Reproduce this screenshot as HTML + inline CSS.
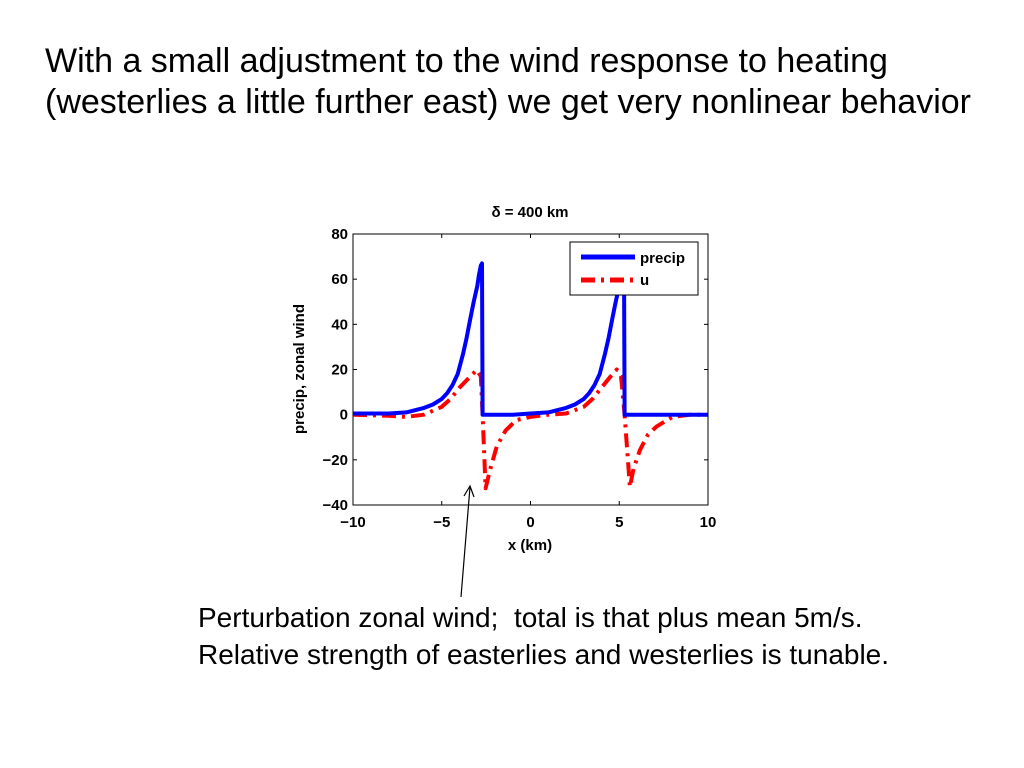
<!DOCTYPE html>
<html><head><meta charset="utf-8"><style>
body{margin:0;width:1024px;height:768px;background:#fff;overflow:hidden;font-family:"Liberation Sans",Arial,sans-serif}
.t{position:absolute;left:45px;top:41px;font-size:34px;line-height:41px;color:#000;white-space:nowrap}
.c{position:absolute;left:198px;top:599px;font-size:28px;line-height:37px;color:#000;white-space:nowrap}
</style></head><body>
<div class="t">With a small adjustment to the wind response to heating<br>(westerlies a little further east) we get very nonlinear behavior</div>
<svg width="1024" height="768" style="position:absolute;left:0;top:0">
<g id="plot"></g>
</svg>
<div class="c">Perturbation zonal wind;&nbsp; total is that plus mean 5m/s.<br>Relative strength of easterlies and westerlies is tunable.</div>
<script>
const xTicks=[-10,-5,0,5,10];
const yTicks=[-40,-20,0,20,40,60,80];
const precipX=[-10,-8,-7,-6,-5.5,-5,-4.7,-4.4,-4.1,-3.8,-3.6,-3.4,-3.2,-3,-2.9,-2.8,-2.73,-2.7,-1,0,1,2,2.5,3,3.3,3.6,3.9,4.2,4.4,4.6,4.8,5.0,5.1,5.2,5.27,5.3,10];
const precipY=[0.5,0.5,1,3,4.5,7,9.5,13,18,27,34,42,50,57,62,66,67,0,0,0.5,1,3,4.5,7,9.5,13,18,27,34,42,50,57,62,66,67,0,0];
const uX=[-10,-8,-7,-6,-5,-4.5,-4,-3.4,-3.03,-2.8,-2.7,-2.53,-2.3,-1.9,-1.4,-0.8,0,1,2,3,3.5,4,4.5,4.86,5.1,5.3,5.6,5.8,6.17,6.6,7.1,8,9,10];
const uY=[0,-0.5,-1,0,3.5,7,12,16.8,19.8,17,0,-32.6,-25,-14,-7,-2.4,-1,0,0.5,3.5,7,12,16.8,20,17,0,-32,-24,-15.6,-9,-5.3,-1,0,0];
const L=353,R=708,T=234,B=505;
const sx=v=>L+(v+10)/20*(R-L), sy=v=>B-(v+40)/120*(B-T);
const g=document.getElementById('plot');const NS='http://www.w3.org/2000/svg';
function mk(tag,attrs,text){const e=document.createElementNS(NS,tag);for(const k in attrs)e.setAttribute(k,attrs[k]);if(text!==undefined)e.textContent=text;g.appendChild(e);return e;}
let e;
e=mk('rect',{x:L,y:T,width:R-L,height:B-T,fill:'#fff',stroke:'#000','stroke-width':1});

xTicks.forEach(v=>{mk('line',{x1:sx(v),x2:sx(v),y1:B,y2:B-4,stroke:'#000'});mk('line',{x1:sx(v),x2:sx(v),y1:T,y2:T+4,stroke:'#000'});
 e=mk('text',{x:sx(v),y:B+22,'text-anchor':'middle','font-size':15,'font-weight':'bold'},v<0?'\u2212'+(-v):v);
 });
yTicks.forEach(v=>{mk('line',{x1:L,x2:L+4,y1:sy(v),y2:sy(v),stroke:'#000'});mk('line',{x1:R,x2:R-4,y1:sy(v),y2:sy(v),stroke:'#000'});
 e=mk('text',{x:L-5,y:sy(v)+5,'text-anchor':'end','font-size':15,'font-weight':'bold'},v<0?'\u2212'+(-v):v);
 });
e=mk('text',{x:530,y:217,'text-anchor':'middle','font-size':15,'font-weight':'bold'},'\u03b4 = 400 km');

e=mk('text',{x:530,y:550,'text-anchor':'middle','font-size':15,'font-weight':'bold'},'x (km)');

e=mk('text',{x:0,y:0,'text-anchor':'middle','font-size':15,'font-weight':'bold',transform:'translate(304,369) rotate(-90)'},'precip, zonal wind');

const pts=(xs,ys)=>xs.map((x,i)=>sx(x).toFixed(1)+','+sy(ys[i]).toFixed(1)).join(' ');
e=mk('polyline',{points:pts(uX,uY),fill:'none',stroke:'#f00','stroke-width':4,'stroke-linejoin':'round','stroke-dasharray':'14 6 3 6'});

e=mk('polyline',{points:pts(precipX,precipY),fill:'none',stroke:'#00f','stroke-width':4,'stroke-linejoin':'round'});

e=mk('rect',{x:570,y:242,width:128,height:53,fill:'#fff',stroke:'#000'});

mk('line',{x1:581,x2:635,y1:257,y2:257,stroke:'#00f','stroke-width':5});
e=mk('text',{x:640,y:263,'font-size':15,'font-weight':'bold'},'precip');
mk('line',{x1:581,x2:635,y1:280,y2:280,stroke:'#f00','stroke-width':5,'stroke-dasharray':'14 6 3 6'});
e=mk('text',{x:640,y:285,'font-size':15,'font-weight':'bold'},'u');
e=mk('line',{x1:461,y1:597,x2:470,y2:487,stroke:'#000','stroke-width':1.2});

mk('polyline',{points:'464,496 470,486 474,497',fill:'none',stroke:'#000','stroke-width':1.2});
</script>
</body></html>
